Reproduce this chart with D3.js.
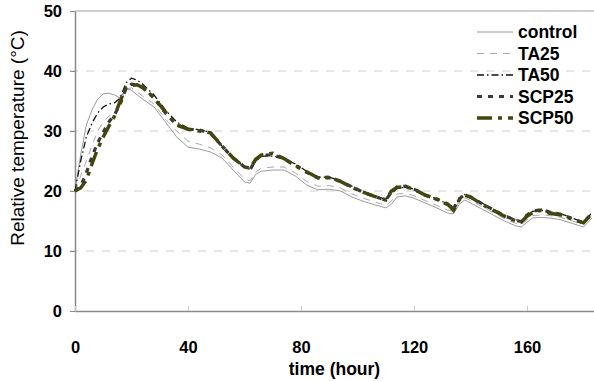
<!DOCTYPE html>
<html>
<head>
<meta charset="utf-8">
<script src="https://cdn.jsdelivr.net/npm/d3@7"></script>
<style>
  body { margin: 0; background: #fff; }
  svg { display: block; font-family: Arial, "Liberation Sans", sans-serif; }
</style>
</head>
<body>
<div id="chart"></div>
<script>
// sampled hours
var hours = [0,2,4,6,8,10,12,14,16,18,20,22,24,28,32,36,40,44,48,52,56,60,62,64,66,70,74,78,82,86,90,94,98,102,106,110,112,114,117,120,124,128,132,134,136,138,140,144,148,152,156,158,160,162,165,168,172,176,180,182,183];

var control = [20,26,31,33.5,35.3,36.2,36.3,36,35.5,37,36.8,36,35.3,34,31.5,29,27.3,27,26.5,25.5,23.5,21.5,21.3,22.8,23.3,23.5,23.5,22.5,21,20.2,20.3,20,19,18.3,17.7,17.2,17.8,19,19.2,18.8,18,17.2,16.3,16.2,17.8,18.5,18,17,16,15,14.2,14,14.8,15.5,15.6,15.5,15.2,14.6,14,15,15.5];
var ta25 = [20,22.5,25,27.5,30,31.5,32.5,33,34.5,37,37.2,36.5,35.8,34.5,32,30,28.3,27.8,27.2,26,24,22,21.7,23.2,23.8,24,24,23,21.6,20.8,20.9,20.5,19.5,18.8,18.2,17.6,18.3,19.5,19.6,19.2,18.4,17.6,16.8,16.6,18.2,18.9,18.4,17.4,16.4,15.4,14.6,14.4,15.2,15.9,16,15.9,15.6,15,14.4,15.4,16];
var ta50 = [20,25,29,31.3,33,34,34.5,34.7,35.5,38,38.8,38.5,37.8,36,33.5,31.5,30.5,30.2,29.8,27.5,25.5,24,23.6,25,25.8,25.8,25.4,24.5,23.3,22.3,22.3,21.7,20.8,19.8,19.2,18.6,19.5,20.5,20.6,20.3,19.4,18.7,17.8,17.3,18.6,19.4,19,18,17,16,15.2,15,16,16.6,16.8,16.5,16.2,15.5,14.8,15.8,16.5];
var scp25 = [20,20.8,23,25.7,28,29.8,31.5,32.7,34.5,37,37.8,37.7,37.3,35.5,33,31,30.3,30.2,29.6,27.5,25.5,24,23.6,25.2,26,26,25.4,24.3,23.1,22.2,22.2,21.6,20.7,19.8,19.1,18.5,19.8,20.7,20.8,20.3,19.3,18.6,17.7,17.1,18.7,19.4,19,17.9,16.9,15.9,15.1,14.9,16,16.6,16.9,16.5,16.1,15.4,14.7,15.8,16.6];
var scp50 = [20,20.5,21.8,24.5,27,29,30.8,32.5,35,37.2,37.6,37.7,37.2,35.5,33.2,31,30.3,30,29.7,27.5,25.5,24,23.8,25.3,26,26.3,25.4,24.2,23.2,22.2,22.3,21.6,20.6,19.8,19.1,18.5,20,20.6,20.7,20.3,19.3,18.7,17.8,16.8,18.5,19.3,19,17.8,16.8,15.8,15,14.8,15.8,16.4,16.8,16.3,16,15.3,14.7,15.7,16.5];

var seriesNames = ["control","TA25","TA50","SCP25","SCP50"];
var xTicks = [0,40,80,120,160];
var yTicks = [0,10,20,30,40,50];

var styles = {
  control: {stroke:"#9a9a9a", width:1, dash:null},
  TA25:    {stroke:"#a8a8a8", width:1, dash:"7,6"},
  TA50:    {stroke:"#111", width:1.3, dash:"7,3,1.5,3"},
  SCP25:   {stroke:"#3a3a3a", width:3.2, dash:"5,6"},
  SCP50:   {stroke:"#45450f", width:3.5, dash:"15,6,4,6"}
};

var W = 594, H = 381;
var margin = {top: 11, right: 0, bottom: 70, left: 75};

var svg = d3.select("#chart").append("svg")
  .attr("width", W).attr("height", H);

var x = d3.scaleLinear().domain([0,184]).range([margin.left, 594.8]);
var y = d3.scaleLinear().domain([0,50]).range([311, margin.top]);

// grid
svg.append("g").selectAll("line")
  .data(yTicks.filter(function(d){ return d > 0 && d < 50; }))
  .enter().append("line")
  .attr("x1", 70).attr("x2", W)
  .attr("y1", function(d){ return y(d); }).attr("y2", function(d){ return y(d); })
  .style("stroke", "#cfcfcf").style("stroke-dasharray", "8,8").style("stroke-width", 1);

// top border
svg.append("line")
  .attr("x1", margin.left).attr("x2", W)
  .attr("y1", y(50)).attr("y2", y(50))
  .style("stroke", "#a0a0a0").style("stroke-width", 1);

// y axis
var gy = svg.append("g")
  .attr("transform", "translate(" + margin.left + ",0)")
  .call(d3.axisLeft(y).tickValues(yTicks).tickSizeInner(5).tickSizeOuter(0).tickPadding(8));
gy.select(".domain").style("stroke", "#8a8a8a").style("stroke-width", 1.5);
gy.selectAll(".tick line").style("stroke", "#8a8a8a");
gy.selectAll("text").style("font-size", "16.5px").style("font-weight", "bold").style("fill", "#000");

// x axis
var gx = svg.append("g")
  .attr("transform", "translate(0," + y(0) + ")")
  .call(d3.axisBottom(x).tickValues(xTicks).tickSizeInner(-5).tickSizeOuter(0).tickPadding(30));
gx.select(".domain").style("stroke", "#8a8a8a").style("stroke-width", 1.5);
gx.selectAll(".tick line").style("stroke", "#c8c8c8");
gx.selectAll("text").style("font-size", "16.5px").style("font-weight", "bold").style("fill", "#000");

// lines
var data = {control: control, TA25: ta25, TA50: ta50, SCP25: scp25, SCP50: scp50};
var line = d3.line()
  .x(function(d, i){ return x(hours[i]); })
  .y(function(d){ return y(d); });

seriesNames.forEach(function(name){
  var s = styles[name];
  svg.append("path")
    .datum(data[name])
    .attr("d", line)
    .style("fill", "none")
    .style("stroke", s.stroke)
    .style("stroke-width", s.width)
    .style("stroke-dasharray", s.dash);
});

// legend
var legend = svg.append("g");
seriesNames.forEach(function(name, i){
  var s = styles[name];
  var ly = 32 + i * 21.5;
  legend.append("line")
    .attr("x1", 477).attr("x2", 513).attr("y1", ly).attr("y2", ly)
    .style("stroke", s.stroke).style("stroke-width", s.width)
    .style("stroke-dasharray", s.dash);
  legend.append("text")
    .attr("x", 518).attr("y", ly).attr("dy", "0.36em")
    .style("font-size", "17.5px").style("font-weight", "bold")
    .text(name);
});

// titles
svg.append("text")
  .attr("x", (margin.left + W) / 2).attr("y", 375)
  .attr("text-anchor", "middle")
  .style("font-size", "17.5px").style("font-weight", "bold")
  .text("time (hour)");

svg.append("text")
  .attr("transform", "translate(24,138) rotate(-90)")
  .attr("text-anchor", "middle")
  .style("font-size", "19px")
  .text("Relative temperature (\u00B0C)");
</script>
</body>
</html>
